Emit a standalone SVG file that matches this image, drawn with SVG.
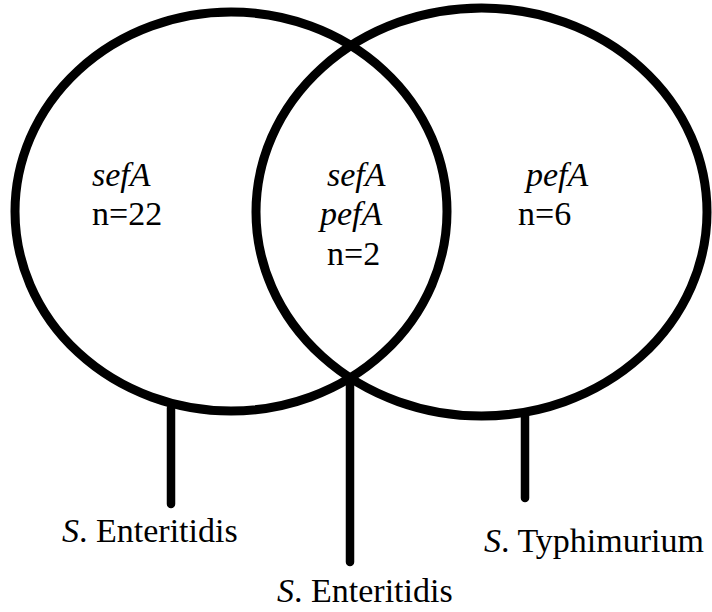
<svg xmlns="http://www.w3.org/2000/svg" width="712" height="612" viewBox="0 0 712 612">
<style>
.c{fill:none;stroke:#000;stroke-width:9}
.l{stroke:#000;stroke-width:8.5;stroke-linecap:round}
.i{font-style:italic}
</style>
<rect width="712" height="612" fill="#fff"/>
<g font-family="'Liberation Serif', 'DejaVu Serif', serif" font-size="34" fill="#000">
<g id="setA"><ellipse class="c" cx="231" cy="211.5" rx="216" ry="199.5"/>
<text x="92" y="186" class="i">sefA</text><text x="92" y="225">n=22</text></g>
<g id="setB"><ellipse class="c" cx="481.5" cy="212" rx="225.5" ry="204"/>
<text x="526" y="186" class="i">pefA</text><text x="518" y="225">n=6</text></g>
<g id="both"><text x="327" y="186" class="i">sefA</text><text x="320" y="225" class="i">pefA</text><text x="327" y="265">n=2</text></g>
<g id="connectors">
<line class="l" x1="171" y1="408" x2="171" y2="504"/>
<line class="l" x1="350" y1="378" x2="350" y2="562"/>
<line class="l" x1="525" y1="416" x2="525" y2="498"/>
</g>
<g id="labelA"><text x="62" y="542"><tspan class="i">S</tspan>. Enteritidis</text></g>
<g id="labelAB"><text x="277" y="602"><tspan class="i">S</tspan>. Enteritidis</text></g>
<g id="labelB"><text x="484" y="552"><tspan class="i">S</tspan>. Typhimurium</text></g>
</g>
</svg>
